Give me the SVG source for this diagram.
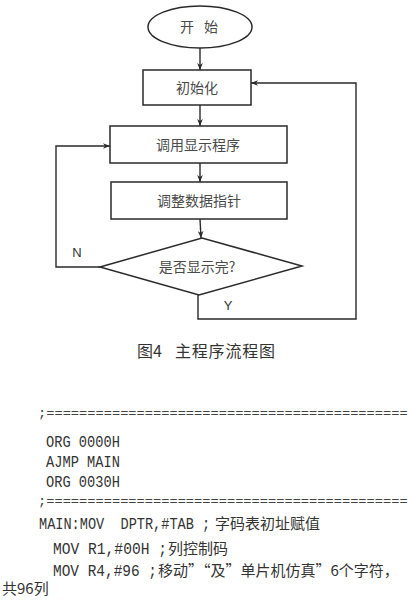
<svg xmlns="http://www.w3.org/2000/svg" width="416" height="600" viewBox="0 0 416 600">
<style>
.shape{fill:none;stroke:#2a2a2a;stroke-width:1.5}
.conn{fill:none;stroke:#2a2a2a;stroke-width:1.4}
.lbl{font-family:"Noto Sans CJK SC",sans-serif;font-size:14px;fill:#4a4a4a;text-anchor:middle}
.yn{font-family:"Liberation Sans",sans-serif;font-size:13px;fill:#333;text-anchor:middle}
.cap{font-family:"Noto Sans CJK SC",sans-serif;font-size:16px;fill:#333}
.code{font-family:"Liberation Mono",monospace;font-size:17px;fill:#333;white-space:pre}
.sep{font-family:"Liberation Mono",monospace;font-size:13.7px;fill:#444}
.cjk{font-family:"Noto Sans CJK SC",sans-serif;font-size:15px;fill:#333}
</style>
<defs>
<marker id="ah" viewBox="0 0 10 10" refX="10" refY="5" markerWidth="7" markerHeight="7" orient="auto" markerUnits="userSpaceOnUse">
<path d="M0,1 L10,5 L0,9 L3,5 Z" fill="#2a2a2a"/>
</marker>
</defs>
<rect width="416" height="600" fill="#fff"/>
<g id="start">
<ellipse class="shape" cx="200" cy="27" rx="52" ry="21"/>
<text class="lbl" y="32"><tspan x="187">开</tspan><tspan x="211">始</tspan></text>
</g>
<g id="init">
<rect class="shape" x="143" y="70" width="108" height="35"/>
<text class="lbl" x="197" y="93">初始化</text>
</g>
<g id="call">
<rect class="shape" x="110" y="126" width="177" height="37"/>
<text class="lbl" x="198" y="150">调用显示程序</text>
</g>
<g id="adjust">
<rect class="shape" x="111" y="182" width="176" height="37"/>
<text class="lbl" x="199" y="206">调整数据指针</text>
</g>
<g id="decision">
<polygon class="shape" points="100,267 202,238 302,266 199,295"/>
<text class="lbl" x="197" y="272">是否显示完?</text>
</g>
<g id="connectors">
<line class="conn" x1="200" y1="48" x2="200" y2="70" marker-end="url(#ah)"/>
<line class="conn" x1="200" y1="105" x2="200" y2="126" marker-end="url(#ah)"/>
<line class="conn" x1="200" y1="163" x2="200" y2="182" marker-end="url(#ah)"/>
<line class="conn" x1="200" y1="219" x2="201" y2="238" marker-end="url(#ah)"/>
<polyline class="conn" points="100,267 56,267 56,146 110,146" marker-end="url(#ah)"/>
<polyline class="conn" points="198,295 198,319 356,319 356,83 251,83" marker-end="url(#ah)"/>
<text class="yn" x="77" y="257">N</text>
<text class="yn" x="228" y="310">Y</text>
</g>
<g id="caption">
<text class="cap" y="357"><tspan x="137">图4</tspan><tspan x="175" textLength="100">主程序流程图</tspan></text>
</g>
<g id="code">
<text class="sep" x="38" y="417">;============================================</text>
<text class="code" transform="translate(46,447) scale(0.806,1)">ORG 0000H</text>
<text class="code" transform="translate(46,467) scale(0.806,1)">AJMP MAIN</text>
<text class="code" transform="translate(46,487) scale(0.806,1)">ORG 0030H</text>
<text class="sep" x="38" y="505">;============================================</text>
<text class="code" transform="translate(39,529) scale(0.8,1)">MAIN:MOV  DPTR,#TAB ;</text>
<text class="cjk" x="215" y="529">字码表初址赋值</text>
<text class="code" transform="translate(53,554) scale(0.86,1)">MOV R1,#00H ;</text>
<text class="cjk" x="168" y="554">列控制码</text>
<text class="code" transform="translate(53,576) scale(0.85,1)">MOV R4,#96 ;</text>
<text class="cjk" x="158" y="576">移动”“及”单片机仿真”6个字符，</text>
<text class="cjk" x="2" y="594">共96列</text>
</g>
</svg>
